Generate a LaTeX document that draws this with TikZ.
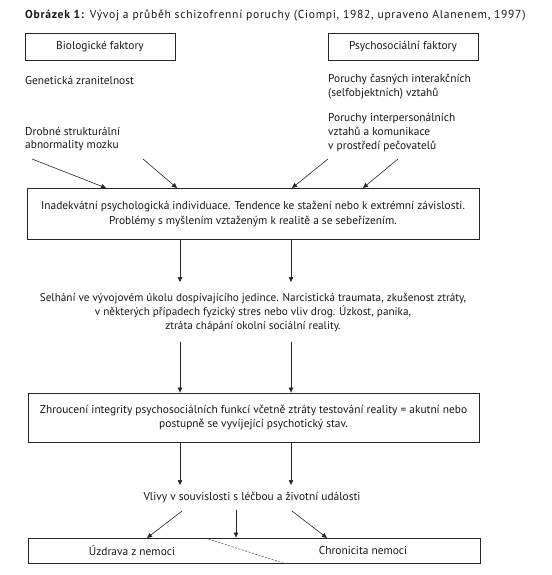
\documentclass[tikz,border=0pt]{standalone}
\usepackage{fontspec}
\setmainfont{PT Sans}
\usetikzlibrary{arrows.meta}
\begin{document}
\begin{tikzpicture}[x=1pt,y=-1pt,
  every node/.style={font=\fontsize{11.4}{13.6}\selectfont, inner sep=0pt, text=black!90},
  frame/.style={draw=black!85, line width=0.9pt},
  txt/.style={align=left},
  ctxt/.style={align=center},
  conn/.style={draw=black!85, line width=0.6pt, -{Triangle[length=5pt,width=4.5pt]}}
]
\useasboundingbox[fill=white] (0,0) rectangle (551,575);
% title
\node[anchor=west, font=\fontsize{11.6}{13.6}\selectfont\addfontfeature{LetterSpace=6}] (title) at (25,16) {\textbf{Obrázek 1:} Vývoj a průběh schizofrenní poruchy (Ciompi, 1982, upraveno Alanenem, 1997)};
% factor boxes
\node[frame, minimum width=150pt, minimum height=27pt] (bio) at (100,47) {Biologické faktory};
\node[frame, minimum width=150pt, minimum height=27pt] (psy) at (403,47) {Psychosociální faktory};
% cause texts
\node[txt, anchor=west] (gen) at (25,80) {Genetická zranitelnost};
\node[txt, anchor=west] (drob) at (25,139) {Drobné strukturální\\abnormality mozku};
\node[txt, anchor=west] (cas) at (328,86.5) {Poruchy časných interakčních\\(selfobjektních) vztahů};
\node[txt, anchor=west] (inter) at (328,132.5) {Poruchy interpersonálních\\vztahů a komunikace\\v prostředí pečovatelů};
% box 1
\node[frame, ctxt, minimum width=452pt, minimum height=51pt, font=\fontsize{11.4}{15}\selectfont] (b1) at (253,213.5) {Inadekvátní psychologická individuace. Tendence ke stažení nebo k extrémní závislosti.\\Problémy s myšlením vztaženým k realitě a se sebeřízením.};
% text 2
\node[ctxt, font=\fontsize{11.2}{14}\selectfont] (t2) at (253,313) {Selhání ve vývojovém úkolu dospívajícího jedince. Narcistická traumata, zkušenost ztráty,\\v některých případech fyzický stres nebo vliv drog. Úzkost, panika,\\ztráta chápání okolní sociální reality.};
% box 3
\node[frame, ctxt, minimum width=451pt, minimum height=49pt, font=\fontsize{11.4}{14}\selectfont] (b3) at (253.5,417.5) {Zhroucení integrity psychosociálních funkcí včetně ztráty testování reality = akutní nebo\\postupně se vyvíjející psychotický stav.};
% influences
\node[ctxt] (vliv) at (252,497) {Vlivy v souvislosti s léčbou a životní události};
% bottom box
\node[frame, minimum width=452pt, minimum height=25pt] (b4) at (254,550.5) {};
\node (uzd) at (132,551) {Úzdrava z nemoci};
\node (chr) at (363,551) {Chronicita nemoci};
\coordinate (d1) at (205,538);
\coordinate (d2) at (283,563);
\draw[black!75, line width=0.5pt, dash pattern=on 2pt off 1.5pt] (d1) -- (d2);
% free arrow ends
\coordinate (s1) at (32,159);
\coordinate (s2) at (143,159);
\coordinate (s3) at (328,159);
\coordinate (s4) at (398,159);
\coordinate (e1) at (106,188);
\coordinate (e2) at (177,188);
\coordinate (e3) at (292,188);
\coordinate (e4) at (363,188);
\draw[conn] (s1) -- (e1);
\draw[conn] (s2) -- (e2);
\draw[conn] (s3) -- (e3);
\draw[conn] (s4) -- (e4);
% box1 -> text2
\coordinate (a1) at (180,282);
\coordinate (a2) at (291,282);
\draw[conn] (b1.south -| a1) -- (a1);
\draw[conn] (b1.south -| a2) -- (a2);
% text2 -> box3
\coordinate (c1) at (180,342);
\coordinate (c2) at (291,342);
\draw[conn] (c1) -- (b3.north -| c1);
\draw[conn] (c2) -- (b3.north -| c2);
% box3 -> vliv
\coordinate (f1) at (180,485);
\coordinate (f2) at (291,485);
\draw[conn] (b3.south -| f1) -- (f1);
\draw[conn] (b3.south -| f2) -- (f2);
% vliv -> bottom
\coordinate (g1) at (182,511);
\coordinate (g2) at (236,510);
\coordinate (g3) at (292,511);
\coordinate (h1) at (147,538);
\coordinate (h3) at (327,538);
\draw[conn] (g1) -- (h1);
\draw[conn] (g2) -- (b4.north -| g2);
\draw[conn] (g3) -- (h3);
\end{tikzpicture}
\end{document}
